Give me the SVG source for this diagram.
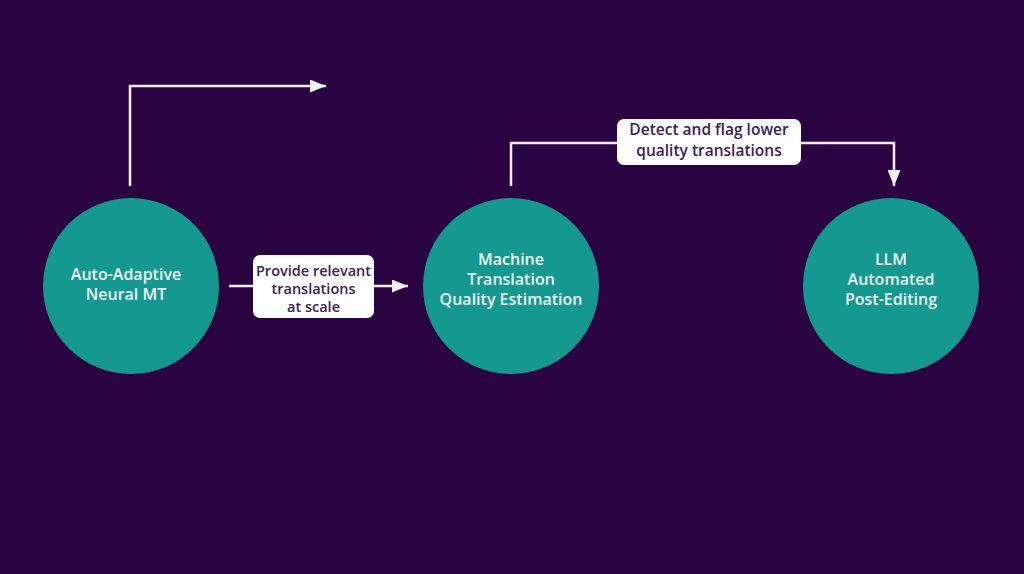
<svg xmlns="http://www.w3.org/2000/svg" width="1024" height="574" viewBox="0 0 1024 574">
<defs>
<marker id="ah" markerWidth="16" markerHeight="13" refX="16" refY="6.5" orient="auto" markerUnits="userSpaceOnUse" viewBox="0 0 16 13">
<path d="M0,0 L16,6.5 L0,13 z" fill="#f4eef6"/>
</marker>
<style>
.node circle{fill:#14988f;}
.node text{fill:#eef8f6;font-family:"Open Sans","Noto Sans",sans-serif;font-size:16px;font-weight:600;text-anchor:middle;}
.conn{fill:none;stroke:#f4eef6;stroke-width:2.5;}
.lbl rect{fill:#ffffff;}
.lbl text{fill:#3c2150;font-family:"Open Sans","Noto Sans",sans-serif;font-size:14.5px;font-weight:600;text-anchor:middle;}
.lbl .big{font-size:15.5px;}
</style>
</defs>
<rect width="1024" height="574" fill="#2a0341"/>
<g id="connectors">
<path class="conn" d="M130,186 V86 H326" marker-end="url(#ah)"/>
<path class="conn" d="M229,286 H408" marker-end="url(#ah)"/>
<path class="conn" d="M511,186 V143 H894 V186" marker-end="url(#ah)"/>
<g class="lbl">
<rect x="253" y="255" width="121" height="63" rx="7"/>
<text x="313.5" y="276">Provide relevant</text>
<text x="313.5" y="294">translations</text>
<text x="313.5" y="312">at scale</text>
</g>
<g class="lbl">
<rect x="617" y="119" width="184" height="46" rx="7"/>
<text class="big" x="709" y="135">Detect and flag lower</text>
<text class="big" x="709" y="156">quality translations</text>
</g>
</g>
<g id="node-nmt" class="node">
<circle cx="131" cy="286" r="88"/>
<text x="126" y="280">Auto-Adaptive</text>
<text x="126" y="300">Neural MT</text>
</g>
<g id="node-qe" class="node">
<circle cx="511" cy="286" r="88"/>
<text x="511" y="265">Machine</text>
<text x="511" y="285">Translation</text>
<text x="511" y="305">Quality Estimation</text>
</g>
<g id="node-llm" class="node">
<circle cx="891" cy="286" r="88"/>
<text x="891" y="265">LLM</text>
<text x="891" y="285">Automated</text>
<text x="891" y="305">Post-Editing</text>
</g>
</svg>
